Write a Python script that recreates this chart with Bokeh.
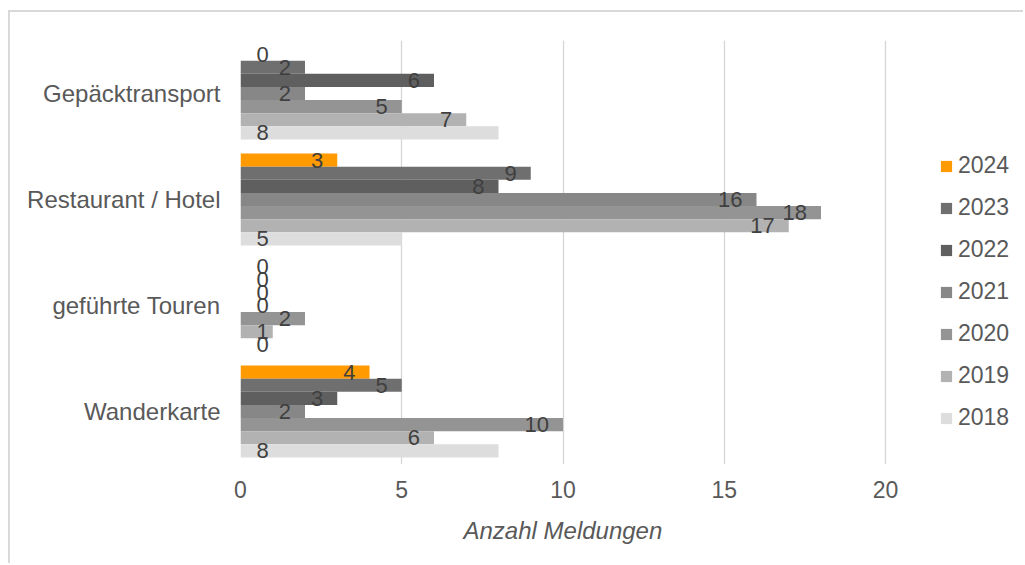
from bokeh.plotting import figure
from bokeh.models import (ColumnDataSource, FactorRange, Range1d, Legend, LegendItem,
                          FixedTicker, Title)
from bokeh.transform import dodge
from bokeh.core.properties import value
from bokeh.embed import file_html
from bokeh.resources import INLINE

# Meldungen je Kategorie und Jahr
categories = ["Gepäcktransport", "Restaurant / Hotel", "geführte Touren", "Wanderkarte"]
years = ["2024", "2023", "2022", "2021", "2020", "2019", "2018"]
counts_2024 = [0, 3, 0, 4]
counts_2023 = [2, 9, 0, 5]
counts_2022 = [6, 8, 0, 3]
counts_2021 = [2, 16, 0, 2]
counts_2020 = [5, 18, 2, 10]
counts_2019 = [7, 17, 1, 6]
counts_2018 = [8, 5, 0, 8]
x_ticks = [0, 5, 10, 15, 20]
x_title = "Anzahl Meldungen"

series = [counts_2024, counts_2023, counts_2022, counts_2021,
          counts_2020, counts_2019, counts_2018]
colors = ["#FF9A00", "#6F6F6F", "#5F5F5F", "#878787", "#949494", "#B2B2B2", "#DDDDDD"]

FONT = "Liberation Sans"
AXIS_COLOR = "#595959"
LABEL_COLOR = "#404040"

BAND = 0.868             # share of a category band covered by the bars
BAR_H = BAND / len(years)

W, H = 1015, 553
LEFT, TOP, BOTTOM = 230, 28, 101
AXIS_W = 645                      # pixel width of the 0..20 value axis
px_per_unit = AXIS_W / 20.0
x_end = (W - LEFT) / px_per_unit  # frame runs on to the right edge, legend sits there

p = figure(width=W, height=H,
           y_range=FactorRange(factors=categories[::-1], range_padding=0),
           x_range=Range1d(0, x_end),
           output_backend="svg", toolbar_location=None,
           min_border_left=LEFT, min_border_right=0,
           min_border_top=TOP, min_border_bottom=BOTTOM,
           background_fill_color="white", border_fill_color="white",
           styles={"margin-left": "8px", "margin-top": "10px",
                   "border-left": "2px solid #D9D9D9",
                   "border-top": "2px solid #D9D9D9"})

offsets = [(3 - i) * BAR_H for i in range(len(years))]

# bars
legend_items = []
for year, vals, col, off in zip(years, series, colors, offsets):
    src = ColumnDataSource(dict(cat=categories, val=vals))
    r = p.hbar(y=dodge("cat", off, range=p.y_range), left=0, right="val", height=BAR_H,
               source=src, fill_color=col, line_color=None)
    legend_items.append(LegendItem(label=year, renderers=[r]))

# value labels: inside the bar end, or at the bar base when there is no room
common = dict(text_baseline="middle", text_font=value(FONT),
              text_font_size="22px", text_color=LABEL_COLOR)
for year, vals, off in zip(years, series, offsets):
    end_cat, end_x, end_txt = [], [], []
    base_cat, base_txt = [], []
    for c, v in zip(categories, vals):
        if year != "2018" and v * px_per_unit - 16 >= 28:
            end_cat.append(c); end_x.append(v); end_txt.append(str(v))
        else:
            base_cat.append(c); base_txt.append(str(v))
    p.text(x="x", y=dodge("cat", off, range=p.y_range), text="t",
           source=ColumnDataSource(dict(x=end_x, cat=end_cat, t=end_txt)),
           text_align="right", x_offset=-14, **common)
    p.text(x="x", y=dodge("cat", off, range=p.y_range), text="t",
           source=ColumnDataSource(dict(x=[0] * len(base_cat), cat=base_cat, t=base_txt)),
           text_align="left", x_offset=16, **common)

legend = Legend(items=legend_items, location=(699, 33), padding=0, margin=0,
                border_line_color=None, background_fill_alpha=0,
                glyph_width=14, glyph_height=14, label_height=14,
                label_standoff=5, spacing=15,
                label_text_font=FONT, label_text_font_size="23px",
                label_text_color=AXIS_COLOR)
p.add_layout(legend)

# axes
p.xaxis.ticker = FixedTicker(ticks=x_ticks)
p.xaxis.axis_line_color = None
p.xaxis.major_tick_line_color = None
p.xaxis.minor_tick_line_color = None
p.xaxis.major_tick_out = 0
p.xaxis.minor_tick_out = 0
p.xaxis.major_label_standoff = 16
p.xaxis.major_label_text_font = FONT
p.xaxis.major_label_text_font_size = "23px"
p.xaxis.major_label_text_color = AXIS_COLOR

# axis title, centred under the 0..20 span of the value axis
p.add_layout(Title(text=x_title, align="left", offset=223, standoff=28,
                   text_font=FONT, text_font_style="italic", text_font_size="24px",
                   text_color=AXIS_COLOR), "below")

p.yaxis.axis_line_color = None
p.yaxis.major_tick_line_color = None
p.yaxis.minor_tick_line_color = None
p.yaxis.major_tick_out = 0
p.yaxis.minor_tick_out = 0
p.yaxis.major_label_standoff = 20
p.yaxis.major_label_text_font = FONT
p.yaxis.major_label_text_font_size = "24px"
p.yaxis.major_label_text_color = AXIS_COLOR

p.xgrid.grid_line_color = "#D6D6D6"
p.xgrid.grid_line_width = 1.3
p.ygrid.grid_line_color = None
p.outline_line_color = None

open("out.html", "w").write(file_html(p, INLINE))
